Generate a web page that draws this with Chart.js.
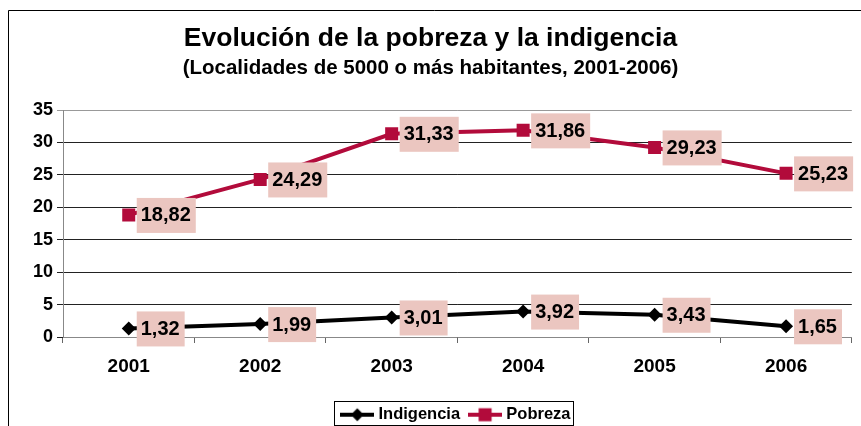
<!DOCTYPE html>
<html><head><meta charset="utf-8">
<script src="https://cdn.jsdelivr.net/npm/chart.js@4/dist/chart.umd.min.js"></script>
<style>html,body{margin:0;padding:0;background:#fff;overflow:hidden}#wrap{position:absolute;left:0;top:0;width:861px;height:426px}</style>
</head><body><div id="wrap"><canvas id="c" width="861" height="426"></canvas></div>
<script>
const years = ['2001','2002','2003','2004','2005','2006'];
const indigencia = [1.32, 1.99, 3.01, 3.92, 3.43, 1.65];
const pobreza = [18.82, 24.29, 31.33, 31.86, 29.23, 25.23];
const yTicks = [0,5,10,15,20,25,30,35];
const titleText = 'Evolución de la pobreza y la indigencia';
const subtitleText = '(Localidades de 5000 o más habitantes, 2001-2006)';
const FONT = "'Liberation Sans', Arial, sans-serif";
const RED = '#B20B3B';

function legendIcon(color, shape){
  const cv = document.createElement('canvas'); cv.width = 34; cv.height = 16;
  const g = cv.getContext('2d');
  g.strokeStyle = color; g.lineWidth = 4;
  g.beginPath(); g.moveTo(0,8); g.lineTo(34,8); g.stroke();
  g.fillStyle = color;
  if (shape === 'diamond'){ g.beginPath(); g.moveTo(17,1.5); g.lineTo(23.5,8); g.lineTo(17,14.5); g.lineTo(10.5,8); g.closePath(); g.fill(); }
  else { g.fillRect(10.5,1.5,13,13); }
  return cv;
}

const framePlugin = {
  id:'frame',
  beforeDraw(chart){
    const c = chart.ctx; c.save();
    c.fillStyle = '#fff'; c.fillRect(0,0,chart.width,chart.height);
    c.strokeStyle = '#000'; c.lineWidth = 1;
    c.beginPath(); c.moveTo(8.5,426); c.lineTo(8.5,10.5); c.lineTo(861,10.5); c.stroke();
    c.restore();
  },
  afterDraw(chart){
    const hb = chart.legend.legendHitBoxes; if(!hb||!hb.length) return;
    const c = chart.ctx;
    let l = Math.min(...hb.map(h=>h.left)), r = Math.max(...hb.map(h=>h.left+h.width));
    c.save(); c.strokeStyle='#000'; c.lineWidth=1;
    c.strokeRect(Math.round(l)-9.5, 401.5, Math.round(r-l)+13, 24);
    c.restore();
  }
};

const labelPlugin = {
  id:'valLabels',
  afterDatasetsDraw(chart){
    const c = chart.ctx; c.save();
    c.font = "bold 20px " + FONT; c.textBaseline='middle'; c.textAlign='left';
    chart.data.datasets.forEach((ds,i)=>{
      const meta = chart.getDatasetMeta(i);
      meta.data.forEach((pt,j)=>{
        const txt = ds.data[j].toFixed(2).replace('.',',');
        const w = c.measureText(txt).width + 9;
        const x = pt.x + 8, y = pt.y;
        c.fillStyle = '#EBC6C0'; c.fillRect(x, y-17, w, 35);
        c.fillStyle = '#000'; c.fillText(txt, x+4, y+1);
      });
    });
    c.restore();
  }
};

new Chart(document.getElementById('c'), {
  type:'line',
  data:{ labels: years, datasets:[
    {label:'Indigencia', data: indigencia, borderColor:'#000', backgroundColor:'#000', borderWidth:4,
     pointStyle:'rectRot', pointRadius:7, pointHoverRadius:7, pointBackgroundColor:'#000', pointBorderWidth:0, tension:0},
    {label:'Pobreza', data: pobreza, borderColor:RED, backgroundColor:RED, borderWidth:4,
     pointStyle:'rect', pointRadius:9.2, pointHoverRadius:9.2, pointBackgroundColor:RED, pointBorderWidth:0, tension:0}
  ]},
  options:{
    responsive:false, animation:false, devicePixelRatio:1,
    layout:{padding:{top:12,left:0,right:0,bottom:-7}},
    plugins:{
      title:{display:true, text:titleText, color:'#000', font:{family:FONT,size:26.5,weight:'bold',lineHeight:1.2}, padding:{top:11,bottom:0}},
      subtitle:{display:true, text:subtitleText, color:'#000', font:{family:FONT,size:20.5,weight:'bold',lineHeight:1.2}, padding:{top:1,bottom:29.6}},
      legend:{position:'bottom', fullSize:false, labels:{usePointStyle:true, pointStyleWidth:26, color:'#000', padding:12,
        font:{family:FONT,size:16.5,weight:'bold'},
        generateLabels(chart){
          return chart.data.datasets.map((ds,i)=>({text:ds.label, datasetIndex:i, fontColor:'#000',
            pointStyle: legendIcon(ds.borderColor, i===0?'diamond':'square'), lineWidth:0, strokeStyle:'transparent', fillStyle:'transparent', hidden:false}));
        }}},
      tooltip:{enabled:false}
    },
    scales:{
      x:{ offset:true,
        grid:{offset:true, drawOnChartArea:false, drawTicks:true, tickLength:6, color:'#666'},
        border:{color:'#888', width:1},
        ticks:{color:'#000', font:{family:FONT,size:19,weight:'bold'}, padding:12},
        afterFit(s){ s.height = 57.5; }
      },
      y:{ min:0, max:35,
        afterBuildTicks(s){ s.ticks = yTicks.map(v=>({value:v})); },
        grid:{color:(ctx)=> ctx.tick && ctx.tick.value===35 ? '#999' : '#222', tickLength:6, lineWidth:1},
        border:{color:'#888', width:1},
        ticks:{color:'#000', font:{family:FONT,size:18,weight:'bold'}, padding:4},
        afterFit(s){ s.width = 63; }
      }
    }
  },
  plugins:[framePlugin, labelPlugin]
});
</script></body></html>
